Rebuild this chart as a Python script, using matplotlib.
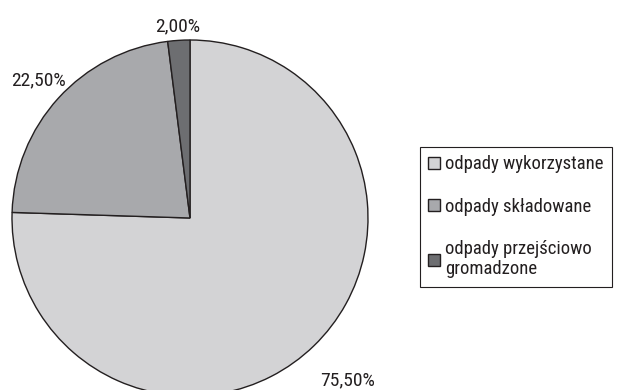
import numpy as np
import matplotlib.pyplot as plt
from matplotlib.patches import Patch

plt.rcParams['font.family'] = ['Roboto Condensed', 'Roboto', 'DejaVu Sans']

# udział poszczególnych strumieni odpadów
categories = ['odpady wykorzystane', 'odpady składowane', 'odpady przejściowo\ngromadzone']
shares = [75.5, 22.5, 2.0]
colors = ['#d3d3d5', '#a8a9ac', '#6d6e71']
label_dist = [1.27, 1.15, 1.08]

W, H = 628, 390
fig = plt.figure(figsize=(W / 100, H / 100), dpi=100)

cx, cy, r = 190, 218, 178
ax = fig.add_axes([(cx - r) / W, (H - cy - r) / H, 2 * r / W, 2 * r / H])
wedges, _ = ax.pie(shares, colors=colors, startangle=90, counterclock=False,
                   wedgeprops=dict(edgecolor='#231f20', linewidth=1.0))
ax.set_xlim(-1, 1)
ax.set_ylim(-1, 1)
ax.set_aspect('equal')
ax.axis('off')

for w, v, d in zip(wedges, shares, label_dist):
    ang = np.deg2rad((w.theta1 + w.theta2) / 2)
    txt = f'{v:.2f}%'.replace('.', ',')
    ax.text(d * np.cos(ang), d * np.sin(ang), txt, ha='center', va='center',
            fontsize=14, color='#231f20', clip_on=False)

handles = [Patch(facecolor=c, edgecolor='#231f20', linewidth=1.0) for c in colors]
leg = fig.legend(handles, categories, loc='upper left',
                 bbox_to_anchor=(420 / W, 1 - 147 / H), borderaxespad=0,
                 fancybox=False, edgecolor='#231f20', fontsize=13.5,
                 handlelength=0.6, handleheight=0.6, handletextpad=0.3,
                 labelspacing=1.3, borderpad=0.45, framealpha=1)
leg.get_frame().set_linewidth(0.8)
for t in leg.get_texts():
    t.set_color('#231f20')
    t.set_linespacing(1.15)

fig.savefig('out.png', dpi=100)
